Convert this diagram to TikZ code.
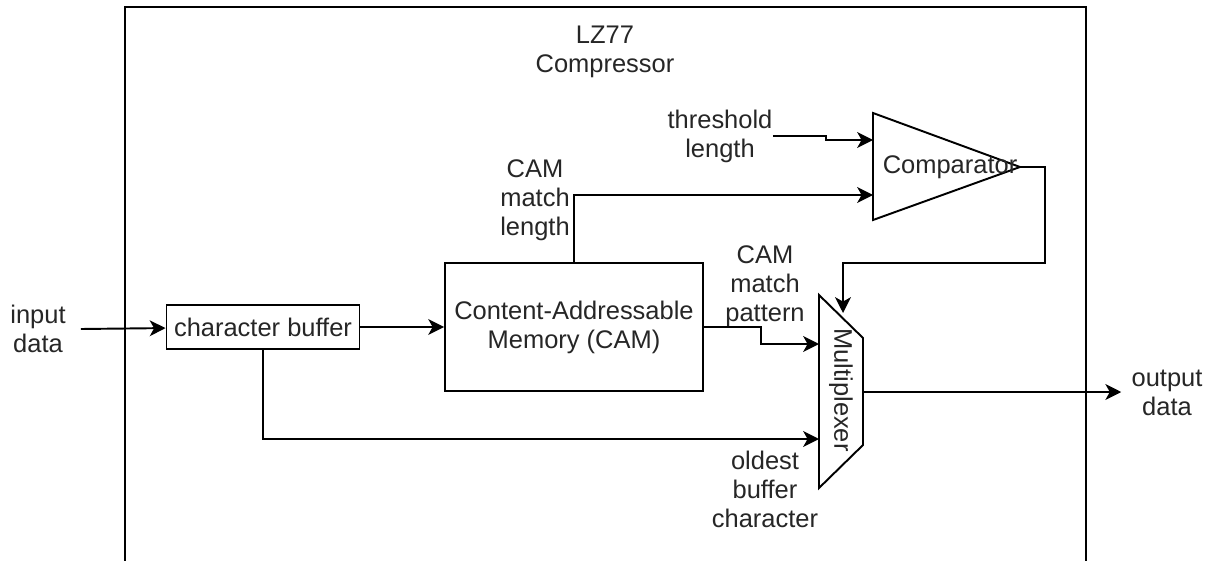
\documentclass[tikz,border=0pt]{standalone}
\usepackage{fontspec}
\setmainfont{Liberation Sans}
\usetikzlibrary{arrows.meta,positioning}
\tikzset{lbl/.style={align=center,inner sep=0pt,text=black!85,font=\fontsize{14.5}{16.5}\selectfont},
  blk/.style={lbl,draw,line width=1.1pt},
  wire/.style={line width=1.1pt},
  arr/.style={wire,-{Stealth[length=9pt,width=9pt,inset=2.5pt]}}}

\begin{document}
\begin{tikzpicture}[x=0.02cm,y=-0.02cm]
    \useasboundingbox (0,0) rectangle (1214,561);
    \draw[wire] (125,561) -- (125,7) -- (1086,7) -- (1086,561);
    \node[lbl] (title) at (605,52) {LZ77\\Compressor};
    \node[lbl] (in) at (38,329) {input\\data};
    \node[blk,minimum width=3.86cm,minimum height=0.88cm] (buf) at (263,327) {character buffer};
    \node[blk,minimum width=5.16cm,minimum height=2.56cm] (cam) at (574,327) {Content-Addressable\\Memory (CAM)};
    \node[lbl] (len) at (535,200) {CAM\\match\\length};
    \node[lbl] (thr) at (720,136) {threshold\\length};
    \draw[wire] (873,113) -- (1020,167) -- (873,220) -- cycle;
    \node[lbl] (comp) at (950,167) {Comparator};
    \coordinate (c1) at (873,140);
    \coordinate (c2) at (873,195);
    \coordinate (cout) at (1020,167);
    \draw[wire] (819,295) -- (863,338) -- (863,445) -- (819,488) -- cycle;
    \node[lbl,rotate=-90] (mux) at (841,390) {Multiplexer};
    \coordinate (mtop) at (843,313);
    \coordinate (m1) at (819,344);
    \coordinate (m2) at (819,439);
    \coordinate (mout) at (863,392);
    \node[lbl] (pat) at (765,286) {CAM\\match\\pattern};
    \node[lbl] (old) at (765,489) {oldest\\buffer\\character};
    \node[lbl] (out) at (1167,393) {output\\data};
    \draw[arr] ([xshift=0.3cm]in.east) -- (buf);
    \draw[arr] (buf) -- (cam);
    \draw[arr] (cam.north) |- (c2);
    \draw[arr] (thr.east) -- ++(53,0) |- (c1);
    \draw[arr] (cout) -| (1045,263) -| (mtop);
    \draw[arr] (cam.east) -- ++(57,0) |- (m1);
    \draw[arr] (buf.south) |- (m2);
    \draw[arr,shorten >=0.2cm] (mout) -- (out.west |- mout);
\end{tikzpicture}
\end{document}
